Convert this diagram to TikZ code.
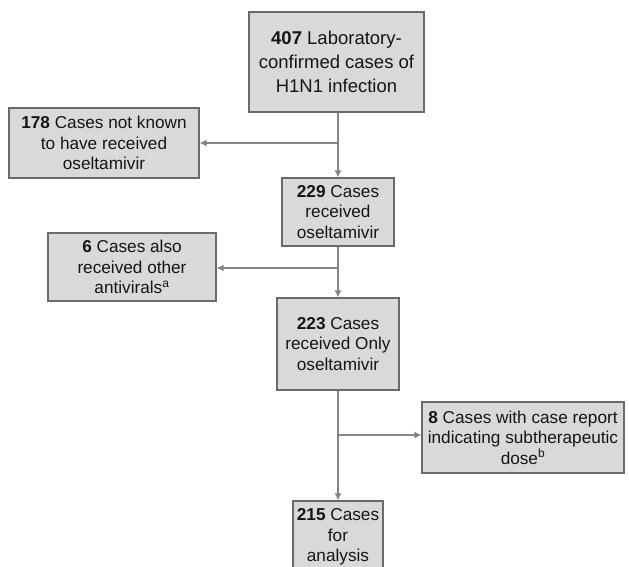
\documentclass[tikz,border=0pt]{standalone}
\usepackage{fontspec}
\setmainfont{Liberation Sans}
\usetikzlibrary{arrows.meta}
\definecolor{boxfill}{HTML}{D9D9D9}
\definecolor{boxline}{HTML}{6A6A6A}
\definecolor{conn}{HTML}{858585}
\definecolor{txt}{HTML}{151515}
\tikzset{
  flowbox/.style={draw=boxline, fill=boxfill, line width=1.2pt, inner sep=0pt,
    align=center, text=txt, font=\fontsize{17.2}{20.5}\selectfont},
  bigbox/.style={flowbox, font=\fontsize{18.5}{24}\selectfont},
  conline/.style={draw=conn, line width=1.3pt},
  arr/.style={conline, -{Latex[length=7pt,width=7pt]}}
}
\begin{document}
\begin{tikzpicture}[x=1pt,y=-1pt]
\useasboundingbox (0,0) rectangle (629,566);
\node[bigbox, minimum width=175pt, minimum height=100pt] (n407) at (336.5,62)
  {\textbf{407} Laboratory-\\confirmed cases of\\H1N1 infection};
\node[flowbox, minimum width=190pt, minimum height=70pt] (n178) at (104,143)
  {\textbf{178} Cases not known\\to have received\\oseltamivir};
\node[flowbox, minimum width=112pt, minimum height=68pt] (n229) at (338,212)
  {\textbf{229} Cases\\received\\oseltamivir};
\node[flowbox, minimum width=168pt, minimum height=68pt] (n6) at (132,267)
  {\textbf{6} Cases also\\received other\\antivirals\textsuperscript{a}};
\node[flowbox, minimum width=122pt, minimum height=92pt] (n223) at (338,344)
  {\textbf{223} Cases\\received Only\\oseltamivir};
\node[flowbox, minimum width=202pt, minimum height=71pt] (n8) at (523,437.5)
  {\textbf{8} Cases with case report\\indicating subtherapeutic\\dose\textsuperscript{b}};
\node[flowbox, minimum width=90pt, minimum height=72pt] (n215) at (338,537)
  {\textbf{215} Cases\\for\\analysis};
\coordinate (b1) at (338,143);
\coordinate (b2) at (338,268);
\coordinate (b3) at (338,435);
\draw[arr] (n229.north |- n407.south) -- (n229.north);
\draw[arr] (b1) -- (n178.east |- b1);
\draw[arr] (n229.south) -- (n223.north);
\draw[arr] (b2) -- (n6.east |- b2);
\draw[arr] (n223.south) -- (n215.north);
\draw[arr] (b3) -- (n8.west |- b3);
\end{tikzpicture}
\end{document}
